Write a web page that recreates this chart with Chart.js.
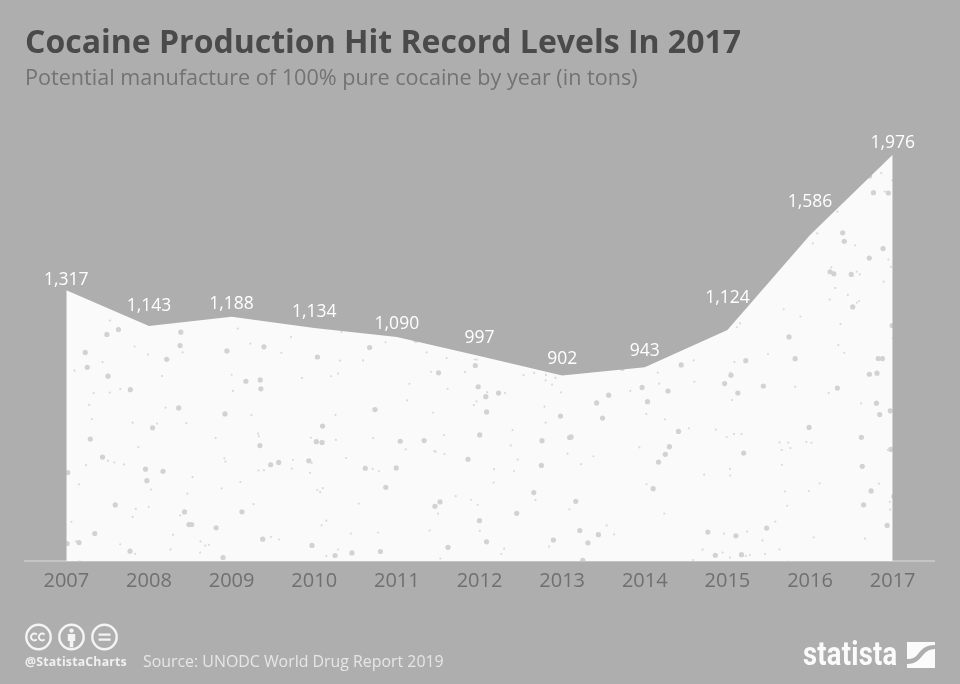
<!DOCTYPE html>
<html><head><meta charset="utf-8">
<script src="https://cdn.jsdelivr.net/npm/chart.js@4"></script>
<style>
html,body{margin:0;padding:0;background:#aeaeae;width:960px;height:684px;overflow:hidden}
#wrap{position:relative;width:960px;height:684px}
canvas{position:absolute;left:0;top:0}
.t{position:absolute;font-family:"Open Sans",sans-serif;white-space:nowrap}
</style></head><body>
<div id="wrap">
<canvas id="c" width="960" height="684"></canvas>
<svg class="t" style="left:24px;top:622px" width="96" height="30" viewBox="0 0 96 30" fill="none" stroke="#f4f4f4" stroke-width="2.4">
  <circle cx="14.5" cy="15" r="12.2"/><circle cx="47.5" cy="15" r="12.2"/><circle cx="80.5" cy="15" r="12.2"/>
  <path d="M12.8 12.6a3.4 3.4 0 1 0 0 4.8M20.6 12.6a3.4 3.4 0 1 0 0 4.8" stroke-width="2"/>
  <circle cx="47.5" cy="8.6" r="2.2" fill="#f4f4f4" stroke="none"/>
  <path d="M43.8 12h7.4v7h-1.9v6.2h-3.6V19h-1.9z" fill="#f4f4f4" stroke="none"/>
  <path d="M74.5 12.6h12M74.5 17.6h12" stroke-width="2.4"/>
</svg>
<div class="t" style="left:25px;top:653px;font-size:12.3px;font-weight:700;color:#f0f0f0;letter-spacing:.2px">@StatistaCharts</div>
<div class="t" style="left:143px;top:650px;font-size:15.9px;color:#e6e6e6">Source: UNODC World Drug Report 2019</div>
<div class="t" style="left:803px;top:634px;font-family:Roboto,sans-serif;font-size:33px;font-weight:700;color:#fbfbfb;transform:scaleX(.83);transform-origin:left top;letter-spacing:.3px">statista</div>
<svg class="t" style="left:907px;top:642px" width="28" height="26" viewBox="0 0 28 26">
  <path fill="#fbfbfb" d="M0 0H28V3C18 3 14 8 11 12C8 16 5 17 0 17Z"/>
  <path fill="#fbfbfb" d="M0 22C9 22 13 17 16 13C19 9 23 7 28 7V26H0Z"/>
</svg>
</div>
<script>
const titleText = "Cocaine Production Hit Record Levels In 2017";
const subtitleText = "Potential manufacture of 100% pure cocaine by year (in tons)";
const years = ["2007","2008","2009","2010","2011","2012","2013","2014","2015","2016","2017"];
const tons = [1317,1143,1188,1134,1090,997,902,943,1124,1586,1976];
const labelLift = [10,20,13,16,13,18,17,16,32,33,12];

function frac(v){return v-Math.floor(v);}
function speckle(){
  const p=document.createElement('canvas');p.width=960;p.height=684;
  const g=p.getContext('2d');
  g.fillStyle='#fafafa';g.fillRect(0,0,960,684);
  for(let n=1;n<=1150;n++){
    const x=frac(Math.sin(n*12.9898)*43758.5453)*960;
    const y=frac(Math.sin(n*78.233)*24634.6345)*684;
    const big=n%3===0;
    g.fillStyle=big?'#d2d2d2':'#dadada';
    g.beginPath();g.arc(x,y,big?2.6:1.1,0,7);g.fill();
  }
  return g.createPattern(p,'no-repeat');
}
const pointLabels={id:'pointLabels',afterDatasetsDraw(ch){
  const g=ch.ctx,pts=ch.getDatasetMeta(0).data;
  g.save();g.fillStyle='#ffffff';g.font='17.5px "Open Sans"';g.textAlign='center';g.textBaseline='middle';
  pts.forEach((p,i)=>g.fillText(tons[i].toLocaleString('en-US'),p.x,p.y-labelLift[i]));
  g.restore();
}};
document.fonts.load('17px "Open Sans"').then(draw,draw);
function draw(){
new Chart(document.getElementById('c'),{
  type:'line',
  data:{labels:years,datasets:[{data:tons,fill:'origin',backgroundColor:speckle(),borderWidth:0,borderColor:'rgba(0,0,0,0)',pointRadius:0,tension:0}]},
  options:{
    responsive:false,animation:false,
    layout:{padding:{left:25,right:26,top:25,bottom:83}},
    plugins:{
      legend:{display:false},tooltip:{enabled:false},
      title:{display:true,text:titleText,align:'start',color:'#4a4a4a',font:{family:'"Open Sans"',size:32,weight:'700',lineHeight:1.2},padding:{top:0,bottom:0}},
      subtitle:{display:true,text:subtitleText,align:'start',color:'#737373',font:{family:'"Open Sans"',size:21.6,weight:'400',lineHeight:1.2},padding:{top:2,bottom:58.6}}
    },
    scales:{
      x:{offset:true,grid:{display:false,drawTicks:false},border:{display:true,color:'#c4c4c4',width:2},
         ticks:{color:'#707070',font:{family:'"Open Sans"',size:20},padding:8,maxRotation:0,autoSkip:false}},
      y:{display:false,min:0,max:2000}
    }
  },
  plugins:[pointLabels]
});
}
</script>
</body></html>
